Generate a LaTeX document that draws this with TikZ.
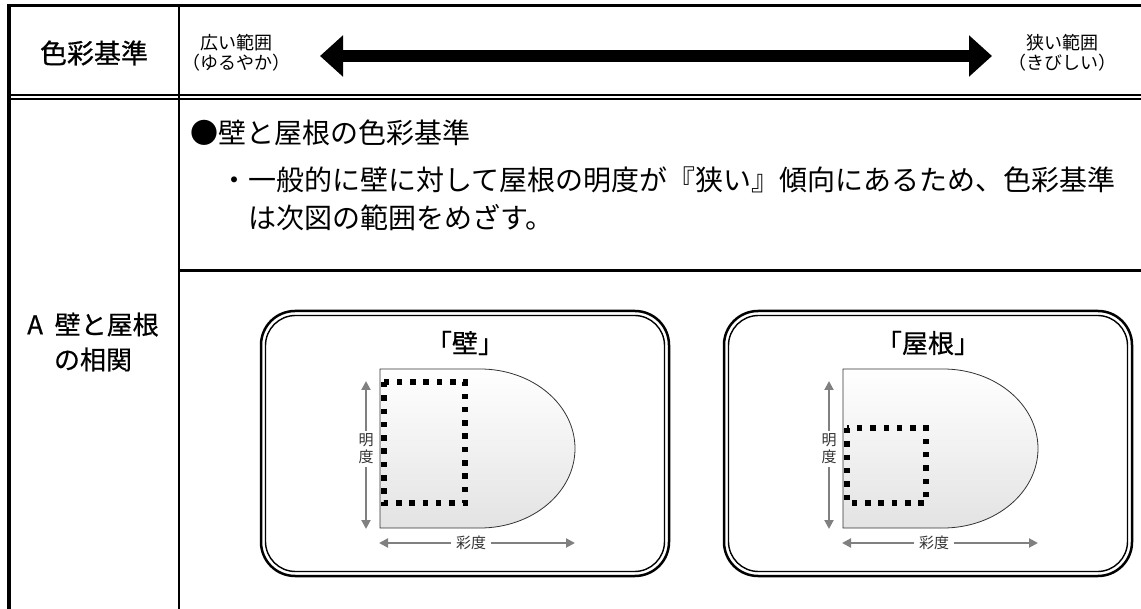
\documentclass[tikz,border=0pt]{standalone}
\usepackage{fontspec}
\setmainfont{Noto Sans CJK JP}
\newfontfamily\jpheavy{Noto Sans CJK JP}[FakeBold=0.6]
\usepackage{tikz}
\usetikzlibrary{arrows.meta, positioning, calc}

\begin{document}
\begin{tikzpicture}[x=1pt, y=-1pt,
    rule/.style={line width=3.2pt, line join=miter},
    thinrule/.style={line width=2.3pt},
    bigarrow/.style={line width=12pt, >={Triangle[length=23pt,width=40pt]}, <->},
    axis/.style={draw=black!50, line width=2pt, >={Triangle[length=9pt,width=9pt]}, <->},
    axislabel/.style={fill=white, inner xsep=5pt, inner ysep=3pt, text=black!80, align=center,
        font=\fontsize{15}{17}\selectfont},
    dots/.style={line width=5.5pt, dash pattern=on 5.5pt off 7.8pt},
    panelout/.style={line width=2.5pt, rounded corners=34pt},
    panelin/.style={line width=1.4pt, rounded corners=30pt},
    small/.style={font=\fontsize{18}{20}\selectfont, align=center, inner sep=0pt},
    body/.style={font=\fontsize{28}{34}\selectfont, anchor=west, inner sep=0pt}
]
    \useasboundingbox (0,0) rectangle (1141,609);

    % Table rules
    \draw[rule] (9,612) -- (9,5.5) -- (1145,5.5);
    \draw[thinrule] (179,5.5) -- (179,612);
    \draw[thinrule] (9,95.3) -- (1145,95.3);
    \draw[thinrule] (9,98.8) -- (1145,98.8);
    \draw[thinrule] (179,270.5) -- (1145,270.5);

    % Header row
    \node[font=\jpheavy\fontsize{27}{30}\selectfont] (crit) at (94,53) {色彩基準};
    \node[small] (wide) at (236,53) {広い範囲\\（ゆるやか）};
    \node[small] (narrow) at (1062,53) {狭い範囲\\（きびしい）};
    \coordinate (lefttip) at (320,56);
    \coordinate (righttip) at (992,56);
    \draw[bigarrow] (lefttip) -- (righttip);

    % Row A
    \node[font=\jpheavy\fontsize{26}{35}\selectfont, align=center] (rowA) at (93,342)
        {A\hspace{0.45em}壁と屋根\\の相関};
    \node[body] (heading) at (190,133) {●壁と屋根の色彩基準};
    \node[body] (note1) at (220,180) {・一般的に壁に対して屋根の明度が『狭い』傾向にあるため、色彩基準};
    \node[body] (note2) at (248,218) {は次図の範囲をめざす。};

    % Wall and roof panels
    \foreach \px/\dy/\dx/\ttl/\nm in {261/13/204/「壁」/wall, 724/59/202/「屋根」/roof} {
        \draw[panelout] (\px,311) rectangle ++(408,265);
        \draw[panelin] (\px+4.5,315.5) rectangle ++(399,256);
        \node[font=\jpheavy\fontsize{26}{28}\selectfont] (\nm-title) at (\px+204,343) {\ttl};
        % colour range
        \path[draw=black!80, line width=0.8pt, top color=white, bottom color=black!11]
            (\px+119,369) -- ++(100,0) arc[start angle=-90, end angle=90, x radius=95, y radius=79.5]
            -- ++(-100,0) -- cycle;
        % target range
        \draw[dots] (\px+123,369+\dy) rectangle (\px+\dx,503);
        % axes
        \coordinate (\nm-ytop) at (\px+105,381);
        \coordinate (\nm-ybot) at (\px+105,529);
        \draw[axis] (\nm-ytop) -- (\nm-ybot) node[axislabel, pos=0.46] (\nm-ylabel) {明\\度};
        \coordinate (\nm-xleft) at (\px+118,543);
        \coordinate (\nm-xright) at (\px+314,543);
        \draw[axis] (\nm-xleft) -- (\nm-xright) node[axislabel, pos=0.47] (\nm-xlabel) {彩度};
    }
\end{tikzpicture}
\end{document}
